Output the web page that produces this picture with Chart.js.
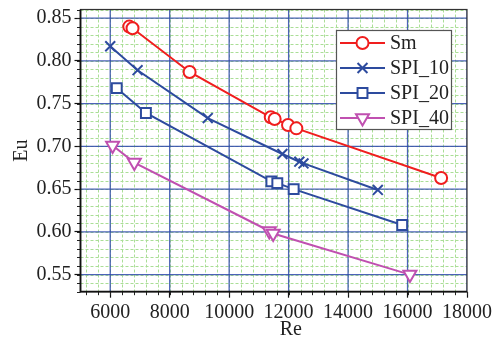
<!DOCTYPE html>
<html>
<head>
<meta charset="utf-8">
<script src="https://cdn.jsdelivr.net/npm/chart.js@4/dist/chart.umd.min.js"></script>
<style>
  html, body { margin: 0; padding: 0; background: #fff; }
  #wrap { width: 500px; height: 345px; }
</style>
</head>
<body>
<div id="wrap"><canvas id="c" width="500" height="345"></canvas></div>
<script>
// Euler number vs Reynolds number for the four configurations
const seriesNames = ['Sm', 'SPI_10', 'SPI_20', 'SPI_40'];

const smRe   = [6640, 6750, 8670, 11400, 11530, 11980, 12260, 17130];
const smEu   = [0.840, 0.838, 0.787, 0.734, 0.732, 0.725, 0.721, 0.663];

const spi10Re = [6000, 6920, 9280, 11790, 12360, 12500, 15000];
const spi10Eu = [0.817, 0.789, 0.733, 0.691, 0.682, 0.680, 0.649];

const spi20Re = [6220, 7200, 11420, 11620, 12170, 15820];
const spi20Eu = [0.768, 0.739, 0.659, 0.657, 0.650, 0.608];

const spi40Re = [6080, 6810, 11350, 11480, 16080];
const spi40Eu = [0.701, 0.681, 0.601, 0.598, 0.550];

const xTickValues = [6000, 8000, 10000, 12000, 14000, 16000, 18000];
const yTickValues = [0.55, 0.60, 0.65, 0.70, 0.75, 0.80, 0.85];
const xTitle = 'Re';
const yTitle = 'Eu';

const FONT = "'Liberation Serif', 'Times New Roman', serif";
const TEXT = '#222';

function pts(xs, ys) { return xs.map((v, i) => ({ x: v, y: ys[i] })); }

const styles = [
  { color: '#f01e1e', pointStyle: 'circle',   radius: 6,   rotation: 0 },
  { color: '#2d4b9e', pointStyle: 'crossRot', radius: 7,   rotation: 0 },
  { color: '#2d4b9e', pointStyle: 'rect',     radius: 7,   rotation: 0 },
  { color: '#c050b0', pointStyle: 'triangle', radius: 7.5, rotation: 180 }
];
const seriesData = [pts(smRe, smEu), pts(spi10Re, spi10Eu), pts(spi20Re, spi20Eu), pts(spi40Re, spi40Eu)];

const datasets = seriesNames.map((name, i) => ({
  label: name,
  data: seriesData[i],
  showLine: true,
  borderColor: styles[i].color,
  borderWidth: 2,
  tension: 0,
  pointStyle: styles[i].pointStyle,
  pointRadius: styles[i].radius,
  pointRotation: styles[i].rotation,
  pointBorderWidth: 2,
  pointBorderColor: styles[i].color,
  pointBackgroundColor: '#fff'
}));

// grid: light green dashed minor lines, blue major lines, frame and minor ticks
const gridPlugin = {
  id: 'gridPlugin',
  beforeDatasetsDraw(chart) {
    const { ctx, chartArea: a, scales: { x, y } } = chart;
    ctx.save();
    ctx.beginPath();
    ctx.rect(a.left, a.top, a.right - a.left, a.bottom - a.top);
    ctx.clip();
    // minor
    ctx.strokeStyle = 'rgb(170,222,150)';
    ctx.lineWidth = 1;
    ctx.setLineDash([3, 2]);
    for (let k = Math.ceil(x.min / 400); k * 400 <= x.max; k++) {
      const px = Math.round(x.getPixelForValue(k * 400)) + 0.5;
      ctx.beginPath(); ctx.moveTo(px, a.top); ctx.lineTo(px, a.bottom); ctx.stroke();
    }
    for (let k = Math.ceil(y.min * 100 - 1e-6); k <= Math.floor(y.max * 100 + 1e-6); k++) {
      const py = Math.round(y.getPixelForValue(k / 100)) + 0.5;
      ctx.beginPath(); ctx.moveTo(a.left, py); ctx.lineTo(a.right, py); ctx.stroke();
    }
    // major
    ctx.setLineDash([]);
    ctx.strokeStyle = 'rgba(45,72,170,0.85)';
    ctx.lineWidth = 1.3;
    xTickValues.forEach(v => {
      const px = x.getPixelForValue(v);
      ctx.beginPath(); ctx.moveTo(px, a.top); ctx.lineTo(px, a.bottom); ctx.stroke();
    });
    yTickValues.forEach(v => {
      const py = y.getPixelForValue(v);
      ctx.beginPath(); ctx.moveTo(a.left, py); ctx.lineTo(a.right, py); ctx.stroke();
    });
    ctx.restore();
  },
  afterDatasetsDraw(chart) {
    const { ctx, chartArea: a, scales: { x, y } } = chart;
    ctx.save();
    // minor tick marks
    ctx.strokeStyle = '#222';
    ctx.lineWidth = 1;
    for (let k = Math.ceil(x.min / 400); k * 400 <= x.max; k++) {
      const px = Math.round(x.getPixelForValue(k * 400)) + 0.5;
      ctx.beginPath(); ctx.moveTo(px, a.bottom); ctx.lineTo(px, a.bottom + 3.5); ctx.stroke();
    }
    for (let k = Math.ceil(y.min * 100 - 1e-6); k <= Math.floor(y.max * 100 + 1e-6); k++) {
      const py = Math.round(y.getPixelForValue(k / 100)) + 0.5;
      ctx.beginPath(); ctx.moveTo(a.left, py); ctx.lineTo(a.left - 3.5, py); ctx.stroke();
    }
    // frame
    ctx.strokeStyle = '#333';
    ctx.lineWidth = 1.2;
    ctx.strokeRect(a.left, a.top, a.right - a.left, a.bottom - a.top);
    ctx.strokeStyle = '#111';
    ctx.lineWidth = 1.8;
    ctx.beginPath();
    ctx.moveTo(a.left, a.top); ctx.lineTo(a.left, a.bottom); ctx.lineTo(a.right, a.bottom);
    ctx.stroke();
    // x-axis title
    ctx.fillStyle = TEXT;
    ctx.font = '20px ' + FONT;
    ctx.textAlign = 'center';
    ctx.textBaseline = 'middle';
    ctx.fillText(xTitle, (a.left + a.right) / 2 + 17, 330);
    ctx.restore();
  }
};

// boxed legend with line + marker samples
const legendBox = { left: 336, top: 30, width: 115, height: 99, lineX0: 340, lineX1: 385, textX: 390, firstY: 43, rowH: 25 };
const legendPlugin = {
  id: 'legendPlugin',
  afterDraw(chart) {
    const { ctx } = chart;
    const L = legendBox;
    ctx.save();
    ctx.fillStyle = '#fff';
    ctx.fillRect(L.left, L.top, L.width, L.height);
    ctx.strokeStyle = '#555';
    ctx.lineWidth = 1.2;
    ctx.strokeRect(L.left + 0.5, L.top + 0.5, L.width, L.height);
    chart.data.datasets.forEach((ds, i) => {
      const cy = L.firstY + i * L.rowH;
      ctx.strokeStyle = ds.borderColor;
      ctx.lineWidth = 2;
      ctx.beginPath(); ctx.moveTo(L.lineX0, cy); ctx.lineTo(L.lineX1, cy); ctx.stroke();
      ctx.fillStyle = '#fff';
      ctx.strokeStyle = ds.pointBorderColor;
      ctx.lineWidth = ds.pointBorderWidth;
      Chart.helpers.drawPoint(ctx, {
        pointStyle: ds.pointStyle, rotation: ds.pointRotation,
        radius: ds.pointRadius, borderWidth: ds.pointBorderWidth
      }, (L.lineX0 + L.lineX1) / 2, cy);
      ctx.fillStyle = TEXT;
      ctx.font = '20px ' + FONT;
      ctx.textAlign = 'left';
      ctx.textBaseline = 'middle';
      ctx.fillText(ds.label, L.textX, cy + 1);
    });
    ctx.restore();
  }
};

new Chart(document.getElementById('c'), {
  type: 'scatter',
  data: { datasets },
  plugins: [gridPlugin, legendPlugin],
  options: {
    responsive: false,
    devicePixelRatio: 1,
    animation: false,
    layout: { padding: { left: 0, right: 33, top: 6, bottom: 0 } },
    plugins: { legend: { display: false }, tooltip: { enabled: false } },
    scales: {
      x: {
        type: 'linear', min: 5000, max: 18000,
        afterBuildTicks: s => { s.ticks = xTickValues.map(v => ({ value: v })); },
        afterFit: s => { s.height = 53.3; s.paddingLeft = 0; s.paddingRight = 0; },
        ticks: { autoSkip: false, maxRotation: 0, color: TEXT, padding: 3,
                 font: { family: FONT, size: 20 }, callback: v => String(v) },
        grid: { drawOnChartArea: false, drawTicks: true, tickLength: 6, tickColor: '#111', tickWidth: 1.2 },
        border: { display: false },
        title: { display: false }
      },
      y: {
        type: 'linear', min: 0.53, max: 0.86,
        afterBuildTicks: s => { s.ticks = yTickValues.map(v => ({ value: v })); },
        afterFit: s => { s.width = 80.5; s.paddingTop = 0; s.paddingBottom = 0; },
        ticks: { autoSkip: false, color: TEXT, padding: 3,
                 font: { family: FONT, size: 20 }, callback: v => v.toFixed(2) },
        grid: { drawOnChartArea: false, drawTicks: true, tickLength: 6, tickColor: '#111', tickWidth: 1.2 },
        border: { display: false },
        title: { display: true, text: yTitle, color: TEXT, padding: { top: 10, bottom: 0 },
                 font: { family: FONT, size: 20 } }
      }
    }
  }
});
</script>
</body>
</html>
